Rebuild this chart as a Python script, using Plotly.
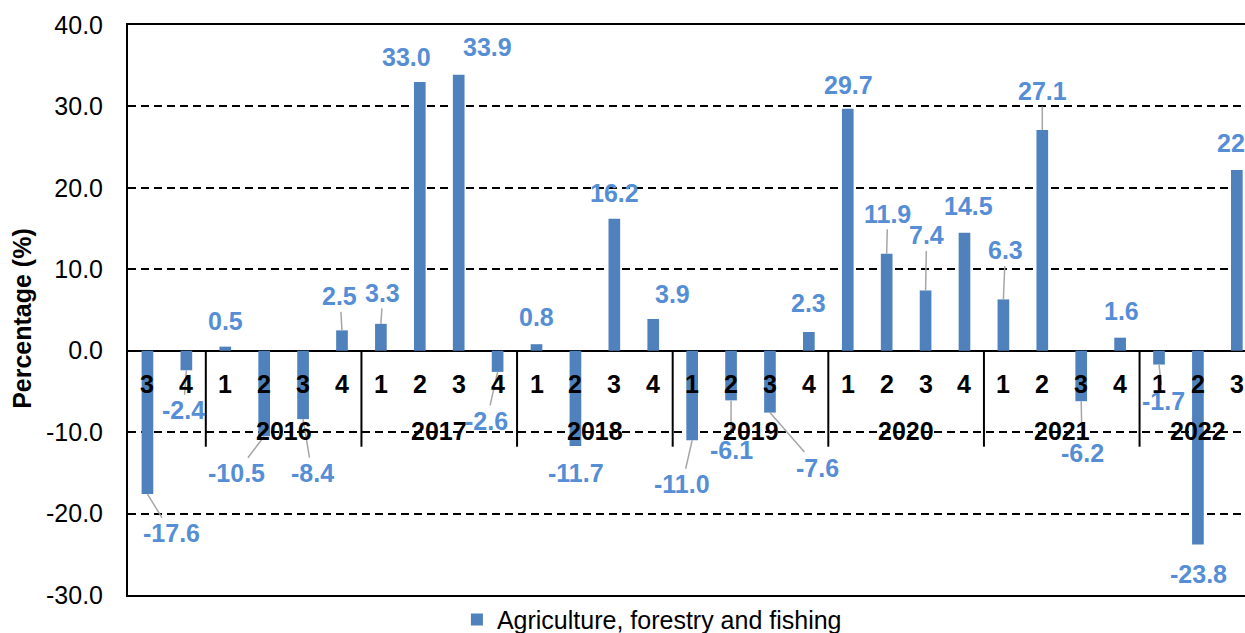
import plotly.graph_objects as go

# ---- data ----
years = ["2015", "2015",
         "2016", "2016", "2016", "2016",
         "2017", "2017", "2017", "2017",
         "2018", "2018", "2018", "2018",
         "2019", "2019", "2019", "2019",
         "2020", "2020", "2020", "2020",
         "2021", "2021", "2021", "2021",
         "2022", "2022", "2022"]
quarters = ["3", "4",
            "1", "2", "3", "4",
            "1", "2", "3", "4",
            "1", "2", "3", "4",
            "1", "2", "3", "4",
            "1", "2", "3", "4",
            "1", "2", "3", "4",
            "1", "2", "3"]
values = [-17.6, -2.4,
          0.5, -10.5, -8.4, 2.5,
          3.3, 33.0, 33.9, -2.6,
          0.8, -11.7, 16.2, 3.9,
          -11.0, -6.1, -7.6, 2.3,
          29.7, 11.9, 7.4, 14.5,
          6.3, 27.1, -6.2, 1.6,
          -1.7, -23.8, 22.2]
year_labels = ["2016", "2017", "2018", "2019", "2020", "2021", "2022"]
y_ticks = [-30, -20, -10, 0, 10, 20, 30, 40]
series_name = "Agriculture, forestry and fishing"

# ---- label placement (pixel offsets from bar end, and leader flag) ----
label_offsets = [(24, 39, 1), (-3, 40, 1),
                 (0, -26, 0), (-28, 37, 1), (9, 54, 1), (-2, -34, 1),
                 (2, -31, 1), (-13, -25, 0), (29, -28, 0), (-11, 49, 1),
                 (0, -27, 0), (1, 27, 0), (0, -26, 0), (19, -25, 0),
                 (-10, 44, 1), (0, 50, 1), (48, 55, 1), (0, -29, 0),
                 (1, -24, 0), (1, -40, 1), (1, -55, 1), (4, -27, 0),
                 (2, -49, 1), (0, -39, 1), (1, 52, 1), (1, -27, 0),
                 (4, 36, 1), (1, 29, 0), (5, -27, 0)]

BAR = "#4F81BD"
LBL = "#558ED5"
FONT = "Arial, Liberation Sans, sans-serif"

cats = [f"{y} Q{q}" for y, q in zip(years, quarters)]

fig = go.Figure()
fig.add_trace(go.Bar(x=cats, y=values, width=0.30, marker=dict(color=BAR, line=dict(width=0)),
                     name=series_name, showlegend=True))

annotations = []
for i, (c, v) in enumerate(zip(cats, values)):
    dx, dy, leader = label_offsets[i]
    txt = f"{v:.1f}"
    lf = dict(family=FONT, size=25, color=LBL, weight="bold")
    if leader:
        annotations.append(dict(x=c, y=v, xref="x", yref="y", text=txt, showarrow=True,
                                ax=dx, ay=dy, arrowhead=0, arrowwidth=1.5, arrowcolor="#A6A6A6",
                                standoff=0, font=lf))
    else:
        annotations.append(dict(x=c, y=v, xref="x", yref="y", text=txt, showarrow=False,
                                xshift=dx, yshift=-dy, font=lf))

# quarter labels along the zero line
for c, q in zip(cats, quarters):
    annotations.append(dict(x=c, y=0, xref="x", yref="y", text=q, showarrow=False, yshift=-33,
                            font=dict(family=FONT, size=25, color="black", weight="bold")))

# year labels centred on their groups
for yl in year_labels:
    idx = [i for i, y in enumerate(years) if y == yl]
    annotations.append(dict(x=sum(idx) / len(idx), y=0, xref="x", yref="y", text=yl, showarrow=False,
                            yshift=-80, font=dict(family=FONT, size=25, color="black", weight="bold")))

# axis title
annotations.append(dict(x=-0.095, y=0.486, xref="paper", yref="paper", text="Percentage (%)",
                        xanchor="center", yanchor="middle",
                        textangle=-90, showarrow=False,
                        font=dict(family=FONT, size=25, color="black", weight="bold")))

# group separators below the zero line
shapes = []
for i in range(1, len(years)):
    if years[i] != years[i - 1]:
        shapes.append(dict(type="line", xref="x", yref="y", x0=i - 0.5, x1=i - 0.5,
                           ysizemode="pixel", yanchor=0, y0=0, y1=-96,
                           line=dict(color="black", width=2)))

fig.update_layout(
    width=1245, height=633,
    margin=dict(l=128, r=0, t=25, b=38, autoexpand=False),
    paper_bgcolor="white", plot_bgcolor="white",
    annotations=annotations, shapes=shapes,
    showlegend=True,
    legend=dict(orientation="h", x=0.367, xanchor="left", xref="container",
                y=0.021, yanchor="middle", yref="container",
                font=dict(family=FONT, size=25, color="black"), bgcolor="rgba(0,0,0,0)"),
    font=dict(family=FONT),
)
fig.update_xaxes(type="category", range=[-0.5, 28.21], showticklabels=False, ticks="",
                 showgrid=False, showline=True, mirror=True, linecolor="black", linewidth=2)
fig.update_yaxes(range=[-30, 40], tickvals=y_ticks, ticktext=[f"{t:.1f}" for t in y_ticks],
                 showgrid=True, gridcolor="black", gridwidth=1.5, griddash="8px,5px",
                 zeroline=True, zerolinecolor="black", zerolinewidth=2,
                 showline=True, mirror=True, linecolor="black", linewidth=2,
                 ticks="", ticklabelstandoff=18,
                 tickfont=dict(family=FONT, size=25, color="black"))

fig.write_html("out.html")
